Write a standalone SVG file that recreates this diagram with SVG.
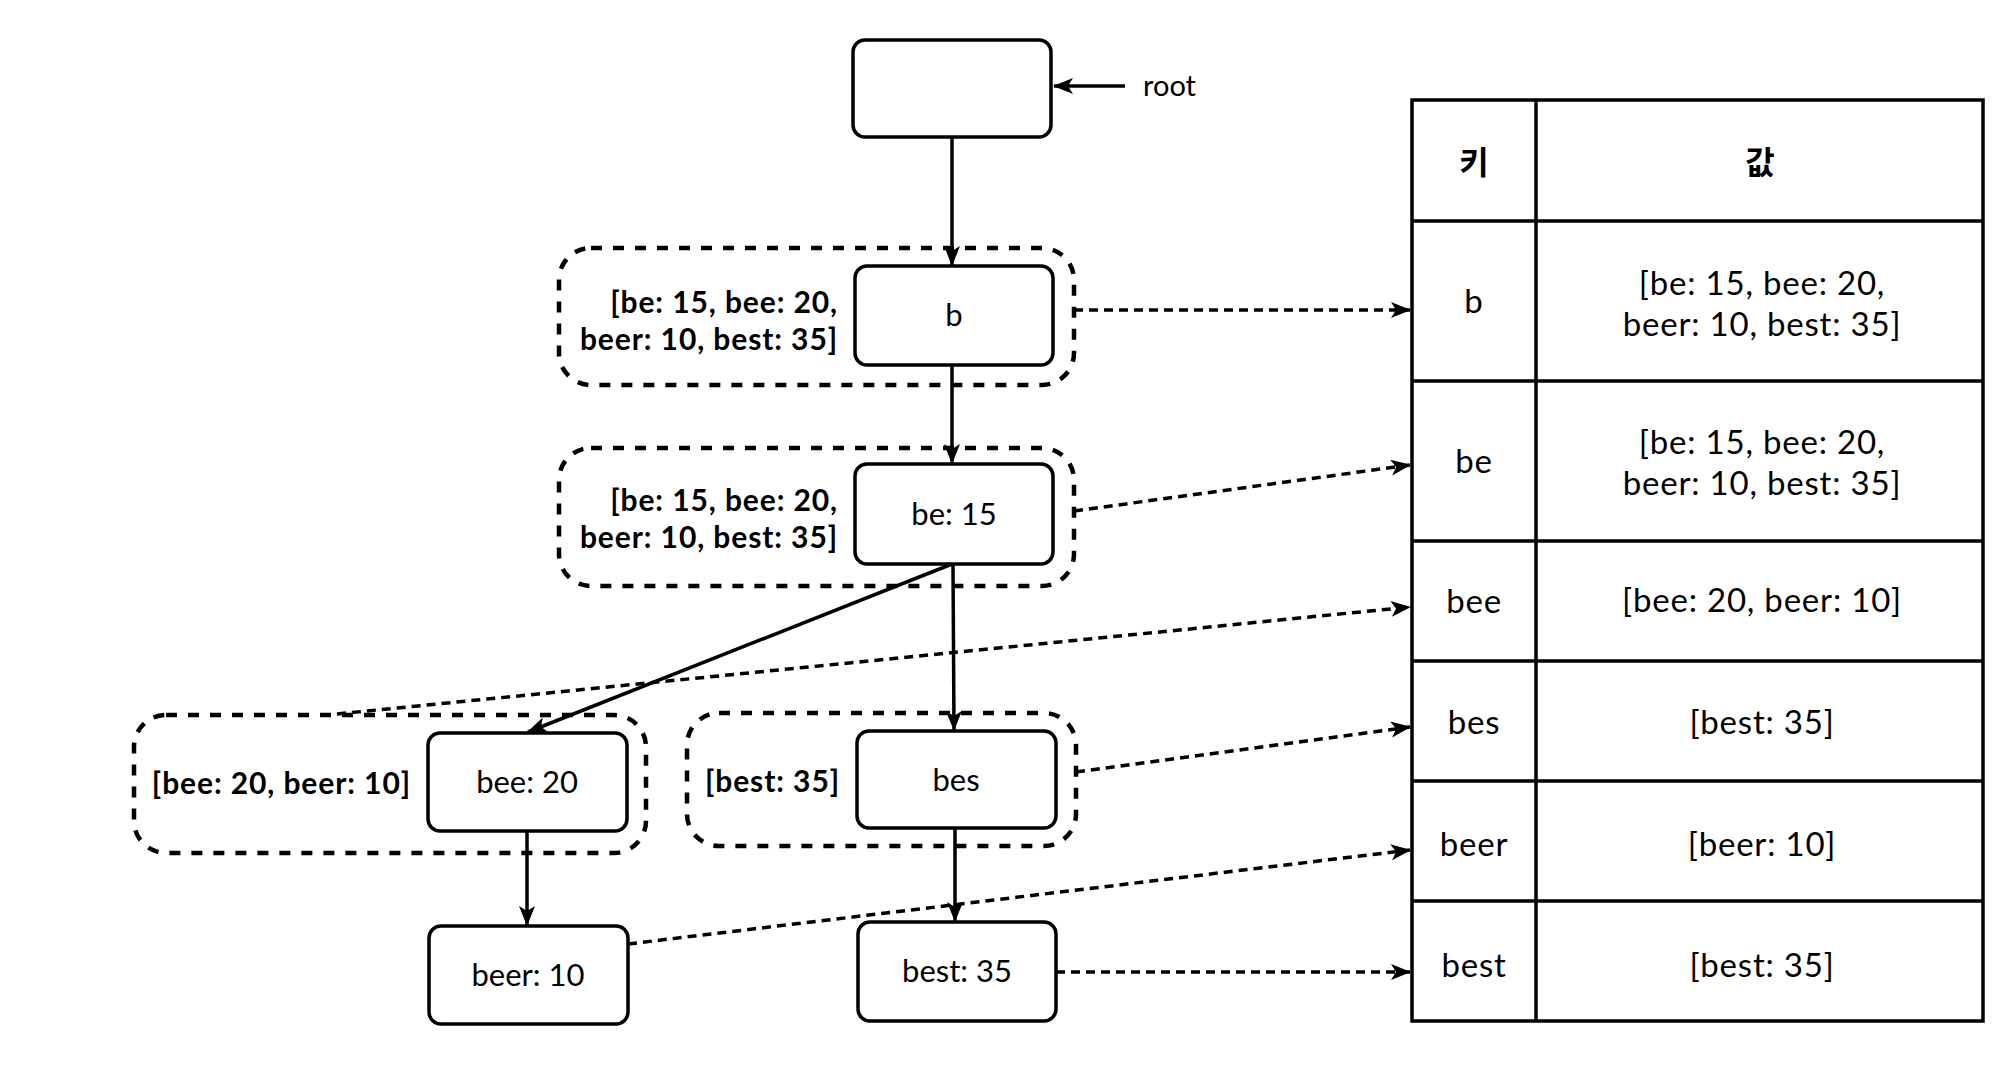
<svg xmlns="http://www.w3.org/2000/svg" width="2014" height="1066" viewBox="0 0 2014 1066">
<style>
.node{fill:#fff;stroke:#000;stroke-width:3.5}
.grp{fill:none;stroke:#000;stroke-width:4.5;stroke-dasharray:11 11}
.t{font-family:Lato,"Noto Sans CJK KR",sans-serif;font-size:31px;fill:#000;text-anchor:middle}
.tv{font-family:Lato,"Noto Sans CJK KR",sans-serif;font-size:33px;letter-spacing:0.8px;fill:#000;text-anchor:middle}
.tk{font-family:"Noto Sans CJK KR",sans-serif;font-size:32px;font-weight:bold;fill:#000;text-anchor:middle}
.lb{font-family:Lato,"Noto Sans CJK KR",sans-serif;font-size:30px;font-weight:bold;letter-spacing:0.9px;fill:#000;text-anchor:end}
.solid{stroke:#000;stroke-width:3.5;fill:none}
.dash{stroke:#000;stroke-width:3.5;fill:none;stroke-dasharray:9 6}
.tbl{fill:none;stroke:#000;stroke-width:3.5}
</style>
<defs>
<marker id="arr" markerUnits="userSpaceOnUse" markerWidth="22" markerHeight="18" refX="19" refY="8" orient="auto">
<path d="M0,0 L20,8 L0,16 L5,8 Z" fill="#000"/>
</marker>
</defs>
<rect width="2014" height="1066" fill="#fff"/>

<g id="connectors">
<line class="solid" x1="1125" y1="86" x2="1054" y2="86" marker-end="url(#arr)"/>
<line class="solid" x1="952" y1="137" x2="952" y2="265" marker-end="url(#arr)"/>
<line class="solid" x1="952" y1="365" x2="952" y2="463" marker-end="url(#arr)"/>
<line class="solid" x1="952" y1="564" x2="528" y2="732" marker-end="url(#arr)"/>
<line class="solid" x1="953" y1="564" x2="954" y2="730" marker-end="url(#arr)"/>
<line class="solid" x1="527" y1="831" x2="527" y2="925" marker-end="url(#arr)"/>
<line class="solid" x1="955" y1="828" x2="955" y2="921" marker-end="url(#arr)"/>
<line class="dash" x1="1074" y1="310" x2="1410" y2="310" marker-end="url(#arr)"/>
<line class="dash" x1="1074" y1="511" x2="1410" y2="465" marker-end="url(#arr)"/>
<line class="dash" x1="337" y1="714" x2="1410" y2="607" marker-end="url(#arr)"/>
<line class="dash" x1="1076" y1="772" x2="1410" y2="727" marker-end="url(#arr)"/>
<line class="dash" x1="628" y1="944" x2="1410" y2="850" marker-end="url(#arr)"/>
<line class="dash" x1="1056" y1="972" x2="1410" y2="972" marker-end="url(#arr)"/>
</g>

<g id="root">
<rect class="node" x="853" y="40" width="198" height="97" rx="12"/>
<text class="t" x="1143" y="96" style="text-anchor:start;font-size:29px">root</text>
</g>

<g id="group-b">
<rect class="grp" x="559" y="248" width="515" height="137" rx="32"/>
<text class="lb" x="838" y="313">[be: 15, bee: 20,</text>
<text class="lb" x="838" y="350">beer: 10, best: 35]</text>
</g>
<g id="node-b">
<rect class="node" x="855" y="266" width="198" height="99" rx="12"/>
<text class="t" x="954" y="326">b</text>
</g>

<g id="group-be">
<rect class="grp" x="559" y="448" width="515" height="138" rx="32"/>
<text class="lb" x="838" y="511">[be: 15, bee: 20,</text>
<text class="lb" x="838" y="548">beer: 10, best: 35]</text>
</g>
<g id="node-be">
<rect class="node" x="855" y="464" width="198" height="100" rx="12"/>
<text class="t" x="954" y="525">be: 15</text>
</g>

<g id="group-bee">
<rect class="grp" x="134" y="715" width="512" height="138" rx="32"/>
<text class="lb" x="411" y="794">[bee: 20, beer: 10]</text>
</g>
<g id="node-bee">
<rect class="node" x="428" y="733" width="199" height="98" rx="12"/>
<text class="t" x="527" y="793">bee: 20</text>
</g>

<g id="group-bes">
<rect class="grp" x="687" y="713" width="389" height="133" rx="32"/>
<text class="lb" x="840" y="792">[best: 35]</text>
</g>
<g id="node-bes">
<rect class="node" x="857" y="731" width="199" height="97" rx="12"/>
<text class="t" x="956" y="791">bes</text>
</g>

<g id="node-beer">
<rect class="node" x="429" y="926" width="199" height="98" rx="12"/>
<text class="t" x="528" y="986">beer: 10</text>
</g>

<g id="node-best">
<rect class="node" x="858" y="922" width="198" height="99" rx="12"/>
<text class="t" x="957" y="982">best: 35</text>
</g>

<g id="table">
<rect class="tbl" x="1412" y="100" width="571" height="921"/>
<line class="tbl" x1="1536" y1="100" x2="1536" y2="1021"/>
<line class="tbl" x1="1412" y1="221" x2="1983" y2="221"/>
<line class="tbl" x1="1412" y1="381" x2="1983" y2="381"/>
<line class="tbl" x1="1412" y1="541" x2="1983" y2="541"/>
<line class="tbl" x1="1412" y1="661" x2="1983" y2="661"/>
<line class="tbl" x1="1412" y1="781" x2="1983" y2="781"/>
<line class="tbl" x1="1412" y1="901" x2="1983" y2="901"/>
<text class="tk" x="1474" y="174">키</text>
<text class="tk" x="1760" y="174">값</text>
<text class="tv" x="1474" y="313">b</text>
<text class="tv" x="1762" y="295">[be: 15, bee: 20,</text>
<text class="tv" x="1762" y="336">beer: 10, best: 35]</text>
<text class="tv" x="1474" y="473">be</text>
<text class="tv" x="1762" y="454">[be: 15, bee: 20,</text>
<text class="tv" x="1762" y="495">beer: 10, best: 35]</text>
<text class="tv" x="1474" y="613">bee</text>
<text class="tv" x="1762" y="612">[bee: 20, beer: 10]</text>
<text class="tv" x="1474" y="734">bes</text>
<text class="tv" x="1762" y="734">[best: 35]</text>
<text class="tv" x="1474" y="856">beer</text>
<text class="tv" x="1762" y="856">[beer: 10]</text>
<text class="tv" x="1474" y="977">best</text>
<text class="tv" x="1762" y="977">[best: 35]</text>
</g>
</svg>
